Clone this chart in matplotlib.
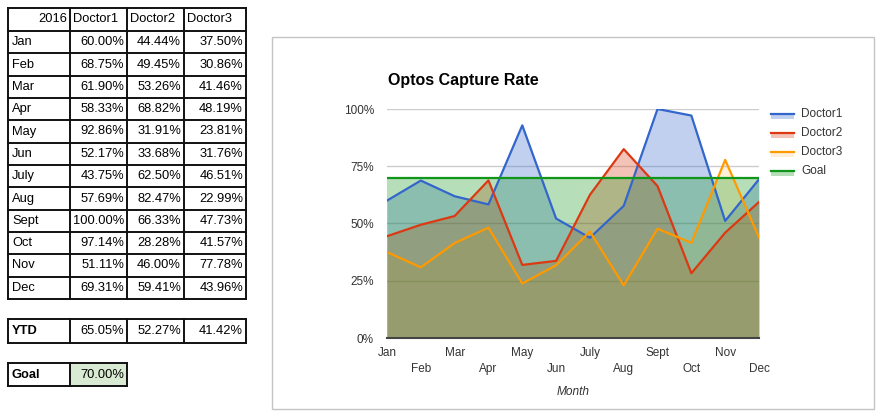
import numpy as np
import matplotlib
matplotlib.use("Agg")
import matplotlib.pyplot as plt
from matplotlib.patches import Rectangle
from matplotlib.lines import Line2D

plt.rcParams['font.family'] = ['Liberation Sans', 'DejaVu Sans']

# ---- data ----
months = ["Jan", "Feb", "Mar", "Apr", "May", "Jun", "July", "Aug", "Sept", "Oct", "Nov", "Dec"]
series_names = ["Doctor1", "Doctor2", "Doctor3"]
doctor1 = [60.00, 68.75, 61.90, 58.33, 92.86, 52.17, 43.75, 57.69, 100.00, 97.14, 51.11, 69.31]
doctor2 = [44.44, 49.45, 53.26, 68.82, 31.91, 33.68, 62.50, 82.47, 66.33, 28.28, 46.00, 59.41]
doctor3 = [37.50, 30.86, 41.46, 48.19, 23.81, 31.76, 46.51, 22.99, 47.73, 41.57, 77.78, 43.96]
ytd = [65.05, 52.27, 41.42]
goal = 70.00
year_label = "2016"
title = "Optos Capture Rate"
y_ticks = [0, 25, 50, 75, 100]

colors = ["#3366cc", "#dc3912", "#ff9900", "#109618"]
fill_alpha = [0.3, 0.3, 0.15, 0.3]

W, H = 882, 419
fig = plt.figure(figsize=(W / 100, H / 100), dpi=100)

def fx(x):
    return x / W

def fy(y):
    return 1 - y / H

# ---- table ----
col_x = [8, 70, 127, 184, 246]
row_top = 8
hdr_bot = 31
row_h = (299 - 31) / 12
row_y = [hdr_bot + i * row_h for i in range(13)]
tfs = 9.3
lw_t = 1.4

def hline(x0, x1, y):
    fig.add_artist(Line2D([fx(x0), fx(x1)], [fy(y), fy(y)], color="#111111", lw=lw_t,
                          transform=fig.transFigure))

def vline(x, y0, y1):
    fig.add_artist(Line2D([fx(x), fx(x)], [fy(y0), fy(y1)], color="#111111", lw=lw_t,
                          transform=fig.transFigure))

for y in [row_top] + row_y:
    hline(col_x[0], col_x[-1], y)
for x in col_x:
    vline(x, row_top, row_y[-1])

# header
yc = (row_top + hdr_bot) / 2
fig.text(fx(col_x[1] - 3), fy(yc), year_label, ha="right", va="center", fontsize=tfs)
for j, name in enumerate(series_names):
    fig.text(fx(col_x[j + 1] + 3), fy(yc), name, ha="left", va="center", fontsize=tfs)

data_cols = [doctor1, doctor2, doctor3]
for i, m in enumerate(months):
    yc = (row_y[i] + row_y[i + 1]) / 2
    fig.text(fx(col_x[0] + 4), fy(yc), m, ha="left", va="center", fontsize=tfs)
    for j, col in enumerate(data_cols):
        fig.text(fx(col_x[j + 2] - 3), fy(yc), f"{col[i]:.2f}%", ha="right", va="center",
                 fontsize=tfs)

# YTD row
y0, y1 = 319, 342.5
hline(col_x[0], col_x[-1], y0)
hline(col_x[0], col_x[-1], y1)
for x in col_x:
    vline(x, y0, y1)
yc = (y0 + y1) / 2
fig.text(fx(col_x[0] + 4), fy(yc), "YTD", ha="left", va="center", fontsize=tfs, fontweight="bold")
for j, v in enumerate(ytd):
    fig.text(fx(col_x[j + 2] - 3), fy(yc), f"{v:.2f}%", ha="right", va="center", fontsize=tfs)

# Goal row
y0, y1 = 363, 386
fig.add_artist(Rectangle((fx(col_x[1]), fy(y1)), fx(col_x[2] - col_x[1]), (y1 - y0) / H,
                         facecolor="#d9ead3", edgecolor="none", transform=fig.transFigure))
hline(col_x[0], col_x[2], y0)
hline(col_x[0], col_x[2], y1)
for x in col_x[:3]:
    vline(x, y0, y1)
yc = (y0 + y1) / 2
fig.text(fx(col_x[0] + 4), fy(yc), "Goal", ha="left", va="center", fontsize=tfs, fontweight="bold")
fig.text(fx(col_x[2] - 3), fy(yc), f"{goal:.2f}%", ha="right", va="center", fontsize=tfs)

# ---- chart frame ----
fig.add_artist(Rectangle((fx(272), fy(409)), fx(874 - 272), (409 - 37) / H,
                         facecolor="white", edgecolor="#c4c4c4", lw=1.0,
                         transform=fig.transFigure, zorder=0))

ax = fig.add_axes([fx(387), fy(338), (759 - 387) / W, (338 - 109) / H])
ax.set_facecolor("none")
x = np.arange(len(months))
goal_series = [goal] * len(months)
all_series = [doctor1, doctor2, doctor3, goal_series]
for vals, c, a in zip(all_series, colors, fill_alpha):
    ax.fill_between(x, 0, np.array(vals) / 100, color=c, alpha=a, lw=0, zorder=2)
for vals, c in zip(all_series, colors):
    ax.plot(x, np.array(vals) / 100, color=c, lw=1.6, zorder=3)

ax.set_xlim(0, len(months) - 1)
ax.set_ylim(0, 1)
ax.set_yticks(np.array(y_ticks) / 100)
ax.set_yticklabels([f"{t}%" for t in y_ticks])
ax.grid(axis="y", color="#cccccc", lw=1.0, zorder=1)
ax.set_axisbelow(True)
ax.axhline(0, color="#444444", lw=1.5, zorder=4, clip_on=False)
for s in ax.spines.values():
    s.set_visible(False)

ax.set_xticks(x[::2])
ax.set_xticklabels(months[::2])
ax.set_xticks(x[1::2], minor=True)
ax.set_xticklabels(months[1::2], minor=True)
ax.tick_params(axis="x", which="major", length=0, pad=6.5, labelsize=8.5, labelcolor="#333333")
ax.tick_params(axis="x", which="minor", length=0, pad=18, labelsize=8.5, labelcolor="#333333")
ax.tick_params(axis="y", length=0, pad=9.5, labelsize=8.5, labelcolor="#333333")

ax.set_xlabel("Month", fontsize=8.6, style="italic", color="#333333")
ax.xaxis.set_label_coords(0.5, (338 - 392) / (338 - 109))
ax.xaxis.label.set_va("center")

fig.text(fx(388), fy(80), title, ha="left", va="center", fontsize=11.5, fontweight="bold")

# legend
leg_names = series_names + ["Goal"]
for i, (name, c, a) in enumerate(zip(leg_names, colors, fill_alpha)):
    yc = 114 + 19 * i
    fig.add_artist(Rectangle((fx(771), fy(yc + 5)), fx(23), 5.5 / H, facecolor=c, alpha=a,
                             edgecolor="none", transform=fig.transFigure))
    fig.add_artist(Line2D([fx(771), fx(794)], [fy(yc), fy(yc)], color=c, lw=1.6,
                          transform=fig.transFigure))
    fig.text(fx(801), fy(yc), name, ha="left", va="center", fontsize=8.5, color="#333333")

fig.savefig("out.png", dpi=100)
